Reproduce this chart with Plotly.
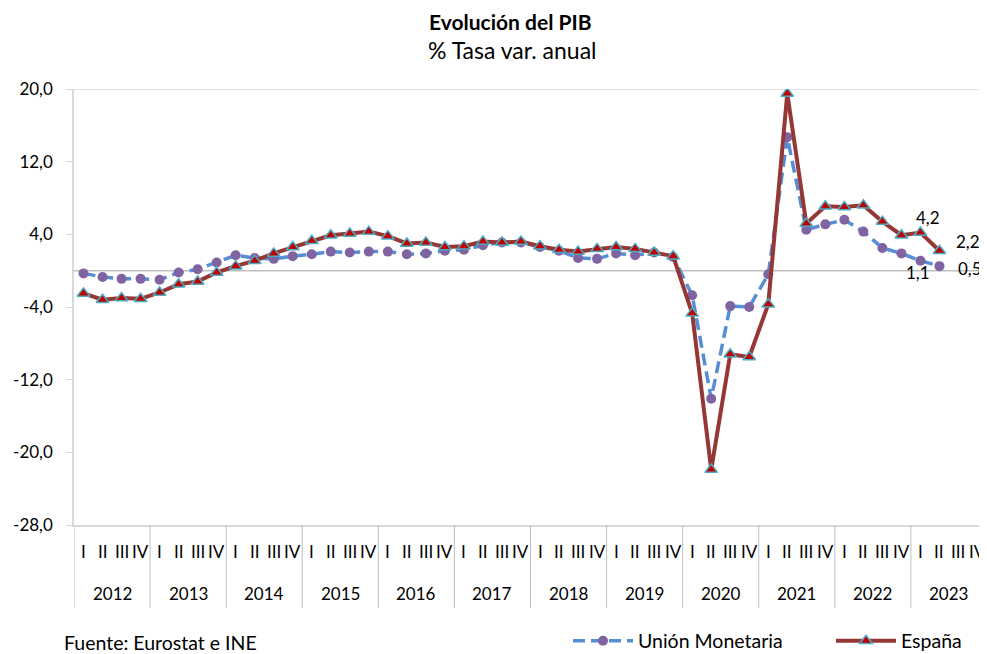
import plotly.graph_objects as go

years = ["2012", "2013", "2014", "2015", "2016", "2017", "2018", "2019", "2020", "2021", "2022", "2023"]
quarters = ["I", "II", "III", "IV"]

espana = [-2.5, -3.2, -3.0, -3.1,
          -2.4, -1.5, -1.2, -0.2,
          0.5, 1.1, 1.9, 2.6,
          3.3, 3.9, 4.1, 4.3,
          3.8, 3.0, 3.1, 2.6,
          2.7, 3.2, 3.1, 3.2,
          2.7, 2.3, 2.1, 2.4,
          2.6, 2.4, 2.0, 1.6,
          -4.7, -21.9, -9.2, -9.5,
          -3.7, 19.5, 5.2, 7.1,
          7.0, 7.2, 5.4, 3.9,
          4.2, 2.2]

union_monetaria = [-0.3, -0.7, -0.9, -0.9,
                   -1.0, -0.2, 0.15, 0.9,
                   1.7, 1.4, 1.3, 1.6,
                   1.8, 2.1, 2.0, 2.1,
                   2.1, 1.8, 1.9, 2.2,
                   2.3, 2.8, 3.1, 3.1,
                   2.6, 2.2, 1.4, 1.3,
                   1.9, 1.7, 2.0, 1.5,
                   -2.7, -14.1, -3.9, -4.0,
                   -0.4, 14.7, 4.5, 5.1,
                   5.6, 4.3, 2.5, 1.9,
                   1.1, 0.5]

y_ticks = [20, 12, 4, -4, -12, -20, -28]
y_tick_labels = ["20,0", "12,0", "4,0", "-4,0", "-12,0", "-20,0", "-28,0"]

FONT = "Lato, Carlito, 'Open Sans', sans-serif"

# page body has an 8px margin in the browser; compensate
OFF = 8
W, H = 987 - OFF, 654 - OFF
L, R, T = 74 - OFF, 0, 89 - OFF
PH = 436
B = H - T - PH


def py(pix):
    # reference pixel y -> paper coordinate
    return (T + PH - (pix - OFF)) / PH


def px(pix):
    return ((pix - OFF) - L) / (W - L - R)


n_q = len(years) * 4
xs_e = list(range(len(espana)))
xs_u = list(range(len(union_monetaria)))

fig = go.Figure()

fig.add_trace(go.Scatter(
    x=xs_u, y=union_monetaria, name="Unión Monetaria", mode="lines+markers",
    line=dict(color="#558ED5", width=3.5, dash="12px,6px"),
    marker=dict(symbol="circle", size=10, color="#8064A2"),
))
fig.add_trace(go.Scatter(
    x=xs_e, y=espana, name="España", mode="lines+markers",
    line=dict(color="#953735", width=4),
    marker=dict(symbol="triangle-up", size=11, color="#C00000",
                line=dict(color="#4BACC6", width=1.5)),
))

shapes = []
shapes.append(dict(type="line", xref="paper", yref="y", x0=0, x1=1, y0=0, y1=0,
                   line=dict(color="#BFBFBF", width=1.5), layer="below"))
shapes.append(dict(type="line", xref="paper", yref="y", x0=0, x1=1, y0=20, y1=20,
                   line=dict(color="#D9D9D9", width=1.5), layer="below"))
for k in range(len(years) + 1):
    shapes.append(dict(type="line", xref="x", yref="paper", x0=-0.5 + 4 * k, x1=-0.5 + 4 * k,
                       y0=0, y1=py(608), line=dict(color="#BFBFBF", width=1)))

annotations = []
annotations.append(dict(text="<b>Evolución del PIB</b>", xref="paper", yref="paper",
                        x=px(510), y=py(21), showarrow=False, xanchor="center", yanchor="middle",
                        font=dict(family=FONT, size=21, color="#000000")))
annotations.append(dict(text="% Tasa var. anual", xref="paper", yref="paper",
                        x=px(512), y=py(50), showarrow=False, xanchor="center", yanchor="middle",
                        font=dict(family=FONT, size=23, color="#000000")))
for yi, yr in enumerate(years):
    for qi, q in enumerate(quarters):
        annotations.append(dict(text=q, xref="x", yref="paper", x=yi * 4 + qi, y=py(551),
                                showarrow=False, xanchor="center", yanchor="middle",
                                font=dict(family=FONT, size=17, color="#000000")))
    annotations.append(dict(text=yr, xref="x", yref="paper", x=yi * 4 + 1.5, y=py(593),
                            showarrow=False, xanchor="center", yanchor="middle",
                            font=dict(family=FONT, size=17, color="#000000")))
annotations.append(dict(text="Fuente: Eurostat e INE", xref="paper", yref="paper",
                        x=px(62), y=py(642), showarrow=False, xanchor="left", yanchor="middle",
                        font=dict(family=FONT, size=19.5, color="#000000")))


def fmt(v):
    return f"{v:.1f}".replace(".", ",")


ie = len(espana) - 1
iu = len(union_monetaria) - 1
labels = [
    (ie - 1, espana[ie - 1], 8, 15),
    (ie, espana[ie], 29, 9),
    (iu - 1, union_monetaria[iu - 1], -2, -12),
    (iu, union_monetaria[iu], 31, -2),
]
for x, v, dx, dy in labels:
    annotations.append(dict(text=fmt(v), x=x, y=v, xref="x", yref="y", showarrow=False,
                            xshift=dx, yshift=dy, xanchor="center", yanchor="middle",
                            font=dict(family=FONT, size=17, color="#000000")))

fig.update_layout(
    width=W, height=H,
    margin=dict(l=L, r=R, t=T, b=B, pad=0, autoexpand=False),
    paper_bgcolor="white", plot_bgcolor="white",
    font=dict(family=FONT, size=16, color="#000000"),
    separators=",.",
    showlegend=True,
    legend=dict(orientation="h", xanchor="left", x=px(568), yanchor="middle", y=py(641),
                font=dict(family=FONT, size=19.5), itemwidth=60, entrywidth=188,
                bgcolor="rgba(0,0,0,0)"),
    xaxis=dict(range=[-0.5, n_q - 0.5], showgrid=False, zeroline=False, showticklabels=False,
               showline=True, linecolor="#D9D9D9", linewidth=1.5, ticks="", fixedrange=True),
    yaxis=dict(range=[-28, 20], tickvals=y_ticks, ticktext=y_tick_labels, showgrid=False,
               zeroline=False, showline=True, linecolor="#D9D9D9", linewidth=1.5,
               ticks="outside", ticklen=6, tickcolor="#D9D9D9", ticklabelstandoff=10,
               tickfont=dict(family=FONT, size=17, color="#000000")),
    shapes=shapes,
    annotations=annotations,
)

fig.write_html("out.html")
